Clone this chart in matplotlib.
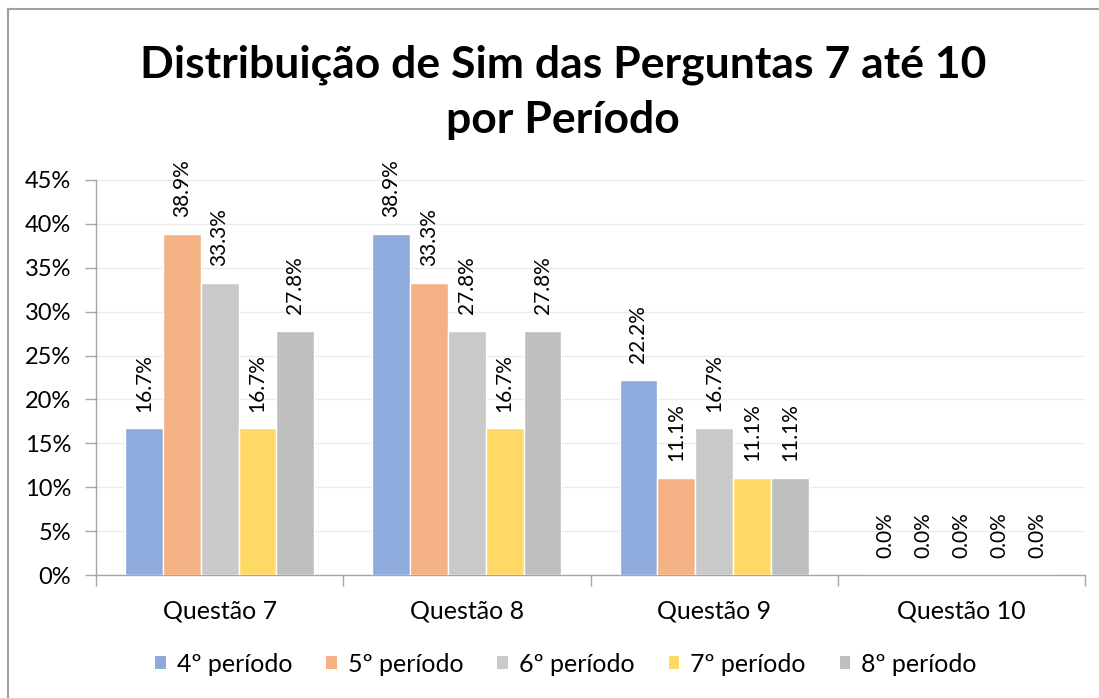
import matplotlib.pyplot as plt
from matplotlib.patches import Patch
from matplotlib.lines import Line2D
import numpy as np

# data
categories = ['Questão 7', 'Questão 8', 'Questão 9', 'Questão 10']
series_names = ['4º período', '5º período', '6º período', '7º período', '8º período']
p4 = [0.167, 0.389, 0.222, 0.0]
p5 = [0.389, 0.333, 0.111, 0.0]
p6 = [0.333, 0.278, 0.167, 0.0]
p7 = [0.167, 0.167, 0.111, 0.0]
p8 = [0.278, 0.278, 0.111, 0.0]
colors = ['#8FAADC', '#F4B183', '#C9C9C9', '#FFD966', '#BFBFBF']
yticks = [0, 0.05, 0.10, 0.15, 0.20, 0.25, 0.30, 0.35, 0.40, 0.45]

plt.rcParams['font.family'] = ['Lato', 'DejaVu Sans']

fig = plt.figure(figsize=(10.99, 6.98), dpi=100)
ax = fig.add_axes([96/1099, 1-575/698, (1085-96)/1099, (575-180)/698])

x = np.arange(len(categories))
w = 0.153
all_series = [p4, p5, p6, p7, p8]
for i, vals in enumerate(all_series):
    pos = x + (i - 2) * w
    ax.bar(pos, vals, w, color=colors[i], edgecolor='white', linewidth=1, zorder=3)
    for xp, v in zip(pos, vals):
        ax.annotate('%.1f%%' % (v*100), (xp, v), xytext=(0, 12), textcoords='offset points',
                    rotation=90, ha='center', va='bottom', fontsize=15, color='#000000')

ax.set_xlim(-0.5, len(categories) - 0.5)
ax.set_ylim(0, 0.45)
ax.set_yticks(yticks)
ax.set_yticklabels(['%d%%' % round(t*100) for t in yticks], fontsize=17)
ax.set_xticks(x)
ax.set_xticklabels(categories, fontsize=18)
ax.tick_params(axis='x', length=0, pad=18)
ax.set_xticks(np.arange(len(categories) + 1) - 0.5, minor=True)
ax.tick_params(axis='x', which='minor', length=8, color='#A6A6A6', width=1)
ax.tick_params(axis='y', length=8, color='#A6A6A6', width=1, pad=10)
ax.grid(axis='y', color='#EBEBEB', linewidth=1, zorder=0)
for s in ['top', 'right']:
    ax.spines[s].set_visible(False)
for s in ['left', 'bottom']:
    ax.spines[s].set_color('#A6A6A6')
    ax.spines[s].set_linewidth(1)

fig.text(563/1099, 1-92/698, 'Distribuição de Sim das Perguntas 7 até 10\npor Período',
         ha='center', va='center', fontsize=32, fontweight='bold', linespacing=1.45)

handles = [Patch(facecolor=c) for c in colors]
fig.legend(handles, series_names, loc='center', bbox_to_anchor=(566/1099, 1-664/698),
           ncol=5, frameon=False, fontsize=18, handlelength=0.42, handleheight=0.42,
           handletextpad=0.45, columnspacing=1.35)

# outer chart frame (only left and top visible)
fig.add_artist(Line2D([8/1099, 8/1099], [0, 1-9/698], color='#A0A0A0', linewidth=1.5))
fig.add_artist(Line2D([8/1099, 1], [1-9/698, 1-9/698], color='#A0A0A0', linewidth=1.5))

fig.savefig('out.png', dpi=100)
